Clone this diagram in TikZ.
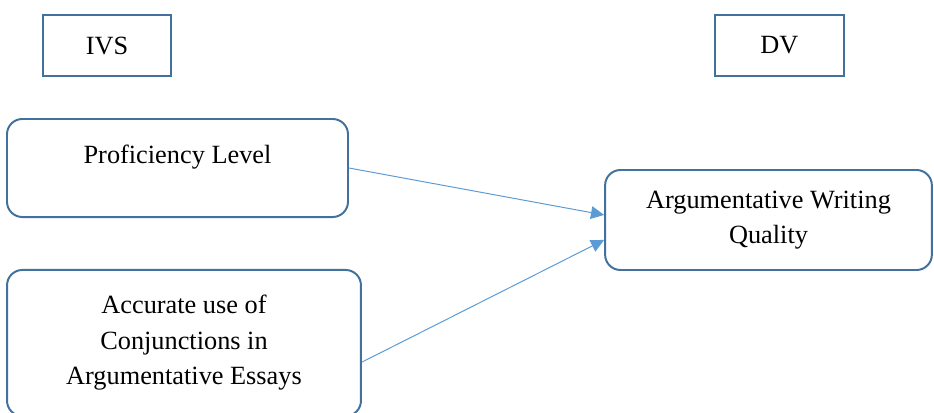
\documentclass[tikz,border=0pt]{standalone}
\usepackage{fontspec}
\setmainfont{Liberation Serif}
\usetikzlibrary{arrows.meta}
\definecolor{boxblue}{RGB}{65,113,156}
\definecolor{linkblue}{RGB}{91,155,213}

\begin{document}
\begin{tikzpicture}[x=0.456pt, y=-0.456pt,
    font=\fontsize{12}{16.2}\selectfont,
    headbox/.style={draw=boxblue, line width=0.9pt, align=center, inner sep=0pt,
        minimum width=58.4pt, minimum height=27.8pt},
    varbox/.style={draw=boxblue, line width=0.9pt, align=center, inner sep=0pt,
        rounded corners=7pt},
    link/.style={draw=linkblue, line width=0.45pt, -{Triangle[length=6pt,width=5.8pt]}}]
    \useasboundingbox (0,0) rectangle (934,412);

    %headings
        \node[headbox] (ivs) at (107,45.5) {IVS};
        \node[headbox] (dv) at (779.5,45.5) {DV};

    %variable boxes
        \node[varbox, minimum width=155.5pt, minimum height=44.7pt, text depth=12.8pt]
            (prof) at (177.5,168) {Proficiency Level};
        \node[varbox, minimum width=161.4pt, minimum height=66.6pt]
            (conj) at (184,343) {Accurate use of\\Conjunctions in\\Argumentative Essays};
        \node[varbox, minimum width=149pt, minimum height=45.6pt]
            (quality) at (768.5,220) {Argumentative Writing\\Quality};

    %links
        \draw[link] (prof.east) -- ([yshift=2.3pt]quality.west);
        \draw[link] ([yshift=-8.7pt]conj.east) -- ([yshift=-9.1pt]quality.west);

\end{tikzpicture}
\end{document}
